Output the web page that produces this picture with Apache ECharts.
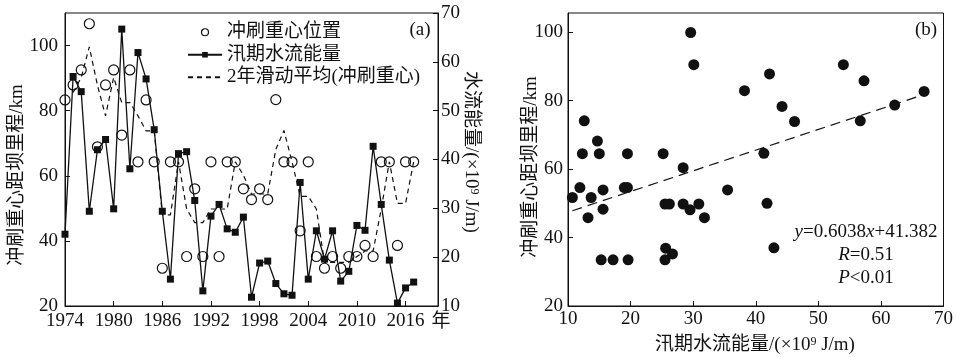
<!DOCTYPE html>
<html>
<head>
<meta charset="utf-8">
<script src="https://cdn.jsdelivr.net/npm/echarts@6/dist/echarts.min.js"></script>
<style>
html,body{margin:0;padding:0;background:#fff;}
#c{width:956px;height:357px;}
</style>
</head>
<body>
<div id="c"></div>
<script>
// ---- Panel (a) data ----
const years = [1974,1975,1976,1977,1978,1979,1980,1981,1982,1983,1984,1985,1986,1987,1988,1989,1990,1991,1992,1993,1994,1995,1996,1997,1998,1999,2000,2001,2002,2003,2004,2005,2006,2007,2008,2009,2010,2011,2012,2013,2014,2015,2016,2017];
const centroidKm = [83.3,87.9,92.5,106.7,68.9,87.9,92.5,72.5,92.5,64.3,83.3,64.3,31.6,64.3,64.3,35.2,56.0,35.2,64.3,35.2,64.3,64.3,56.0,52.7,56.0,52.7,83.4,64.3,64.3,43.1,64.3,35.2,31.6,35.2,31.6,35.2,35.2,38.6,35.2,64.3,64.3,38.6,64.3,64.3];
const floodEnergy = [24.7,57.0,53.9,29.4,42.0,44.1,29.9,66.7,38.1,61.9,56.5,46.1,29.4,15.5,41.2,41.6,31.6,13.1,28.4,30.8,25.8,25.1,28.2,11.8,18.8,19.2,14.6,12.5,12.2,35.3,15.5,25.4,19.6,25.4,15.1,17.1,26.5,25.5,42.7,30.8,19.4,10.6,13.7,14.9];
const movingAvgKm = [null,85.6,90.2,99.6,87.8,78.4,90.2,82.5,82.5,78.4,73.8,73.8,48.0,48.0,64.3,49.8,45.6,45.6,49.8,49.8,49.8,64.3,60.2,54.4,54.4,54.4,68.1,73.9,64.3,53.7,53.7,49.8,33.4,33.4,33.4,33.4,35.2,36.9,36.9,49.8,64.3,51.5,51.5,64.3];
const seriesNames = ['冲刷重心位置','汛期水流能量','2年滑动平均(冲刷重心)'];

// ---- Panel (b) data ----
const scatterEnergy = [10.7,11.9,12.3,12.6,13.2,13.7,14.7,15.0,15.3,15.6,15.6,17.2,19.0,19.5,19.5,19.6,25.2,25.5,26.2,25.6,25.5,26.7,28.4,28.4,29.6,29.5,30.1,30.9,31.8,35.5,38.2,41.3,41.8,42.2,42.9,44.2,46.2,54.0,56.7,57.3,62.2,66.9];
const scatterKm = [51.7,54.6,64.5,74.1,45.8,51.7,68.2,64.5,33.5,53.9,48.3,33.5,54.6,54.6,64.5,33.5,64.5,49.8,49.8,36.9,33.5,35.2,60.4,49.8,99.9,48.1,90.5,49.8,45.8,53.9,82.9,64.6,50.0,87.8,37.0,78.3,73.9,90.5,74.1,85.8,78.7,82.7];
const fitSlope = 0.6038;
const fitIntercept = 41.382;
const fitXRange = [10.7, 67.0];

const FONT = "'Liberation Serif','Noto Sans CJK SC',serif";
const INK = '#111';
const FS = 19;

const pairs = (xs, ys) => xs.map((x, i) => [x, ys[i]]);
const fitData = fitXRange.map(x => [x, fitSlope * x + fitIntercept]);

function axisCommon(extra) {
  return Object.assign({
    axisLine: { show: true, lineStyle: { color: INK, width: 1 } },
    axisTick: { show: true, inside: true, length: 5, lineStyle: { color: INK, width: 1 } },
    axisLabel: { color: INK, fontSize: FS, fontFamily: FONT, formatter: v => String(v), showMaxLabel: false },
    splitLine: { show: false }
  }, extra);
}

const chart = echarts.init(document.getElementById('c'), null, { renderer: 'canvas' });
chart.setOption({
  animation: false,
  backgroundColor: '#fff',
  textStyle: { fontFamily: FONT, color: INK },
  grid: [
    { left: 65, top: 13, width: 373, height: 293, show: true, borderColor: INK, borderWidth: 1, backgroundColor: 'transparent' },
    { left: 568, top: 13, width: 376, height: 293, show: true, borderColor: INK, borderWidth: 1, backgroundColor: 'transparent' }
  ],
  legend: {
    data: [
      { name: seriesNames[0], icon: 'circle', itemStyle: { color: 'rgba(255,255,255,0)', borderColor: INK, borderWidth: 1.2, opacity: 1 } },
      { name: seriesNames[1] },
      { name: seriesNames[2], itemStyle: { opacity: 0 } }
    ],
    orient: 'vertical',
    left: 187, top: 21,
    padding: 0,
    itemGap: 0,
    itemWidth: 34, itemHeight: 7,
    textStyle: { fontSize: FS, fontFamily: FONT, color: INK, lineHeight: 22.5 },
    selectedMode: false
  },
  xAxis: [
    axisCommon({ type: 'value', gridIndex: 0, min: 1974, max: 2020, interval: 6,
      axisLabel: { color: INK, fontSize: FS, fontFamily: FONT, formatter: v => String(v), showMaxLabel: false, margin: 6 } }),
    axisCommon({ type: 'value', gridIndex: 1, min: 10, max: 70, interval: 10,
      axisLabel: { color: INK, fontSize: FS, fontFamily: FONT, formatter: v => String(v), margin: 4 } })
  ],
  yAxis: [
    axisCommon({ type: 'value', gridIndex: 0, min: 20, max: 110, interval: 20,
      axisLabel: { color: INK, fontSize: FS, fontFamily: FONT, formatter: v => String(v), showMaxLabel: false, margin: 7 } }),
    axisCommon({ type: 'value', gridIndex: 0, position: 'right', min: 10, max: 70, interval: 10,
      axisLabel: { color: INK, fontSize: FS, fontFamily: FONT, formatter: v => String(v), margin: 3 } }),
    axisCommon({ type: 'value', gridIndex: 1, min: 20, max: 105.6, interval: 20,
      axisLabel: { color: INK, fontSize: FS, fontFamily: FONT, formatter: v => String(v), showMaxLabel: false, margin: 5 } })
  ],
  series: [
    {
      name: seriesNames[0], type: 'scatter', xAxisIndex: 0, yAxisIndex: 0,
      data: pairs(years, centroidKm), symbol: 'circle', symbolSize: 10, z: 4,
      itemStyle: { color: 'rgba(255,255,255,0)', borderColor: INK, borderWidth: 1.2, opacity: 1 }
    },
    {
      name: seriesNames[1], type: 'line', xAxisIndex: 0, yAxisIndex: 1,
      data: pairs(years, floodEnergy), symbol: 'rect', symbolSize: 7, showSymbol: true, z: 3,
      lineStyle: { color: INK, width: 1.3 }, itemStyle: { color: INK, opacity: 1 }
    },
    {
      name: seriesNames[2], type: 'line', xAxisIndex: 0, yAxisIndex: 0,
      data: pairs(years, movingAvgKm), symbol: 'none', connectNulls: false, z: 2,
      lineStyle: { color: INK, width: 1.2, type: [5, 4] }, itemStyle: { color: INK }
    },
    {
      type: 'scatter', xAxisIndex: 1, yAxisIndex: 2,
      data: pairs(scatterEnergy, scatterKm), symbol: 'circle', symbolSize: 11,
      itemStyle: { color: INK, opacity: 1 }
    },
    {
      type: 'line', xAxisIndex: 1, yAxisIndex: 2, data: fitData, symbol: 'none',
      lineStyle: { color: INK, width: 1.2, type: [10, 6] }
    }
  ],
  graphic: [
    { type: 'text', x: 420, y: 30, style: { text: '(a)', fontSize: FS, fontFamily: FONT, fill: INK, align: 'center', verticalAlign: 'middle' } },
    { type: 'text', x: 926, y: 30, style: { text: '(b)', fontSize: FS, fontFamily: FONT, fill: INK, align: 'center', verticalAlign: 'middle' } },
    { type: 'text', x: 441, y: 322, style: { text: '年', fontSize: FS, fontFamily: FONT, fill: INK, align: 'center', verticalAlign: 'middle' } },
    { type: 'text', x: 17, y: 175, rotation: Math.PI / 2, style: { text: '冲刷重心距坝里程/km', fontSize: FS, fontFamily: FONT, fill: INK, align: 'center', verticalAlign: 'middle' } },
    { type: 'text', x: 471, y: 152, rotation: -Math.PI / 2, style: {
        text: '水流能量/(×10{sup|9} J/m)', fontSize: FS, fontFamily: FONT, fill: INK, align: 'center', verticalAlign: 'middle',
        rich: { sup: { fontSize: 12, fontFamily: FONT, fill: INK, verticalAlign: 'top' } } } },
    { type: 'text', x: 531, y: 167, rotation: Math.PI / 2, style: { text: '冲刷重心距坝里程/km', fontSize: FS, fontFamily: FONT, fill: INK, align: 'center', verticalAlign: 'middle' } },
    { type: 'text', x: 755, y: 345, style: {
        text: '汛期水流能量/(×10{sup|9} J/m)', fontSize: FS, fontFamily: FONT, fill: INK, align: 'center', verticalAlign: 'middle',
        rich: { sup: { fontSize: 12, fontFamily: FONT, fill: INK, verticalAlign: 'top' } } } },
    { type: 'text', x: 866, y: 255, style: {
        text: '{i|y}=0.6038{i|x}+41.382\n{i|R}=0.51\n{i|P}<0.01', fontSize: FS, fontFamily: FONT, fill: INK,
        align: 'center', verticalAlign: 'middle', lineHeight: 23,
        rich: { i: { fontStyle: 'italic', fontSize: FS, fontFamily: FONT, fill: INK, lineHeight: 23 } } } }
  ]
});
</script>
</body>
</html>
